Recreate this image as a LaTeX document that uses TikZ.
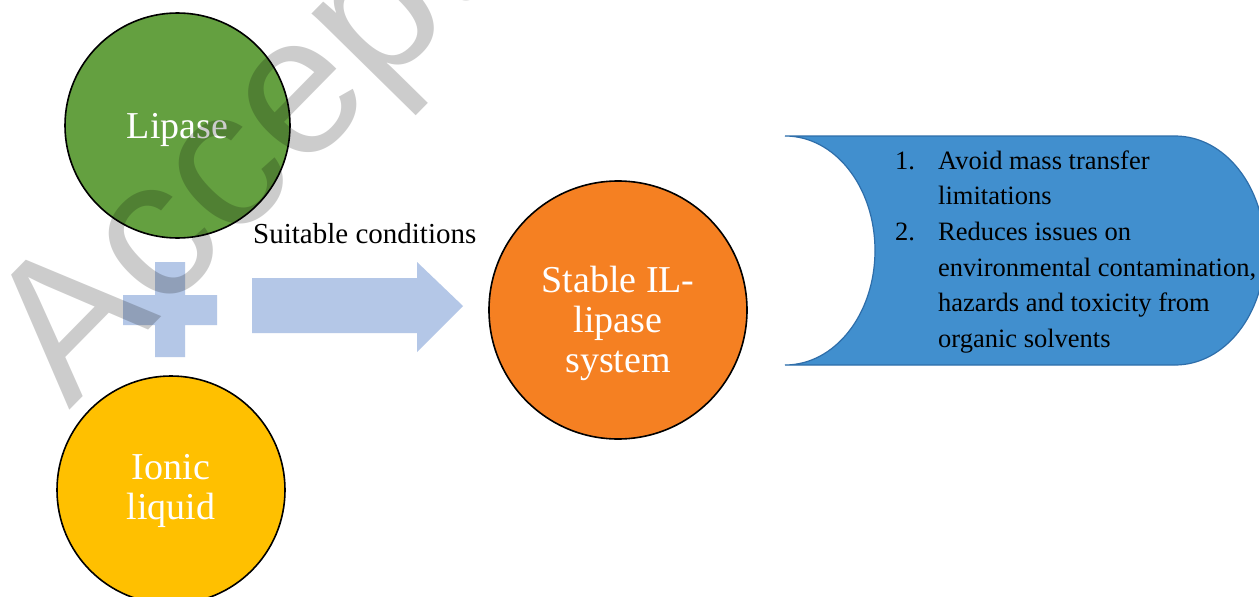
\documentclass[tikz,border=0pt]{standalone}
\usepackage{fontspec}
\setmainfont{Liberation Serif}
\newfontfamily\wmfont{Liberation Sans}
\definecolor{lipgreen}{RGB}{100,160,64}
\definecolor{ilyellow}{RGB}{255,192,0}
\definecolor{sysorange}{RGB}{245,128,34}
\definecolor{boxblue}{RGB}{65,143,206}
\definecolor{boxedge}{RGB}{46,110,170}
\definecolor{lightblue}{RGB}{180,199,231}
\newcommand{\numbox}[1]{\makebox[43pt][l]{#1}}
\tikzset{
  ball/.style={circle, draw=black, line width=1.6pt, inner sep=0pt},
  balltext/.style={text=white, align=center, font=\fontsize{38}{40}\selectfont},
  plaintext/.style={text=black, inner sep=0pt},
  pale/.style={fill=lightblue, draw=none}
}
\begin{document}
\begin{tikzpicture}[x=1pt,y=-1pt]
\useasboundingbox (0,0) rectangle (1259,597);
\begin{scope}
\clip (0,0) rectangle (1259,597);
\fill[white] (0,0) rectangle (1259,597);
% circles
\node[ball, fill=lipgreen, minimum size=225pt] (lipase) at (177.5,125.5) {};
\node[balltext] (lipasetext) at (177.5,129.5) {Lipase};
\node[ball, fill=ilyellow, minimum size=228pt] (ionic) at (171,490) {};
\node[balltext] (ionictext) at (171,491) {Ionic\\liquid};
\node[ball, fill=sysorange, minimum size=258pt] (system) at (618,310) {};
\node[balltext] (systemtext) at (618,323) {Stable IL-\\lipase\\system};
% plus sign
\path[pale] (155,262) -- (185,262) -- (185,295) -- (217,295) -- (217,325) -- (185,325) -- (185,357) -- (155,357) -- (155,325) -- (123,325) -- (123,295) -- (155,295) -- cycle;
% block arrow
\path[pale] (252,278) -- (417,278) -- (417,262) -- (463,306) -- (417,352) -- (417,333) -- (252,333) -- cycle;
\node[plaintext, anchor=base west, font=\fontsize{29}{32}\selectfont] (cond) at (253,243) {Suitable conditions};
% blue box
\path[fill=boxblue, draw=boxedge, line width=1.2pt]
  (785,136) -- (1175,136)
  .. controls (1225,136) and (1265,187) .. (1265,250.5)
  .. controls (1265,314) and (1225,365) .. (1175,365)
  -- (785,365)
  .. controls (835,365) and (875,314) .. (875,250.5)
  .. controls (875,187) and (835,136) .. (785,136) -- cycle;
\node[plaintext, anchor=base west, font=\fontsize{26.5}{35.7}\selectfont] (list) at (895,169)
  {\begin{tabular}[t]{@{}l@{}}
   \numbox{1.}Avoid mass transfer\\
   \numbox{}limitations\\
   \numbox{2.}Reduces issues on\\
   \numbox{}environmental contamination,\\
   \numbox{}hazards and toxicity from\\
   \numbox{}organic solvents
   \end{tabular}};
% watermark
\node[anchor=base west, inner sep=0pt, rotate=45.5, text=black, opacity=0.2, font=\wmfont\fontsize{198}{198}\selectfont] (wm) at (69,411) {Accepted};
\end{scope}
\end{tikzpicture}
\end{document}
